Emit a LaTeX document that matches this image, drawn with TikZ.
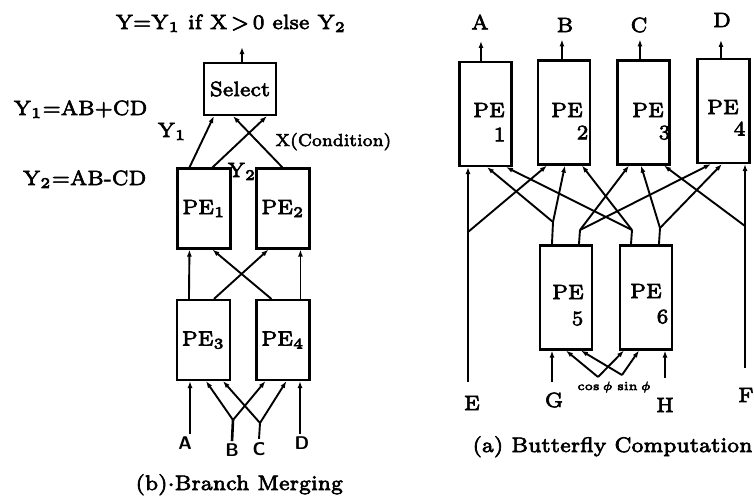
\documentclass[tikz,border=0pt]{standalone}
\usetikzlibrary{arrows.meta,calc}
\newcommand{\heavytext}{\special{pdf:literal direct 2 Tr 0.22 w}}
\newcommand{\plaintext}{\special{pdf:literal direct 0 Tr}}
\begin{document}
\begin{tikzpicture}[x=1pt,y=-1pt,
  box/.style={draw,line width=2.1pt,inner sep=0pt},
  lbox/.style={box,minimum width=53pt,minimum height=80pt},
  rbox/.style={box,minimum width=52pt,minimum height=104pt},
  wire/.style={line width=1.9pt},
  arr/.style={wire,-{Latex[length=7pt,width=5pt]}},
  txt/.style={inner sep=0pt,scale=2.95,font=\fontsize{7}{8.4}\selectfont\heavytext,execute at end node=\plaintext},
  sanstxt/.style={inner sep=0pt,scale=2.3,font=\fontsize{8}{9.6}\sffamily\bfseries},
  smalltxt/.style={inner sep=0pt,scale=2.4,font=\fontsize{5}{6}\selectfont\heavytext,execute at end node=\plaintext},
  captxt/.style={inner sep=0pt,scale=3.0,font=\fontsize{7}{8.4}\selectfont\heavytext,execute at end node=\plaintext}
]
\useasboundingbox (0,0) rectangle (754,498);

% ---------------- (b) Branch Merging ----------------
\node[txt,anchor=base] (title) at (231,29) {Y=Y$_1$ if X\,$>$\,0 else Y$_2$};
\node[box,minimum width=72pt,minimum height=52pt] (sel) at (240,89) {};
\node[txt] (selt) at (sel.center) {Select};
\node[lbox] (L1) at (204,208.5) {};
\node[lbox] (L2) at (283,208.5) {};
\node[lbox] (L3) at (203.5,340) {};
\node[lbox] (L4) at (283,340) {};
\node[txt] (L1t) at (L1.center) {PE$_1$};
\node[txt] (L2t) at (L2.center) {PE$_2$};
\node[txt] (L3t) at (L3.center) {PE$_3$};
\node[txt] (L4t) at (L4.center) {PE$_4$};

\node[txt,anchor=base east] (y1eq) at (148,115) {Y$_1$=AB+CD};
\node[txt,anchor=base east] (y2eq) at (147,185) {Y$_2$=AB-CD};
\node[txt,anchor=base west] (y1) at (157,137) {Y$_1$};
\node[txt,anchor=base west] (y2) at (227,177) {Y$_2$};
\node[txt,anchor=base west,scale=0.84] (xc) at (275,146) {X(Condition)};

\coordinate (selout) at (242,47);
\draw[arr] ([xshift=2pt]sel.north) -- (selout);
\draw[arr] ([xshift=13pt]L1.north west) -- ([xshift=11pt]sel.south west);
\draw[arr] ([xshift=36pt]L1.north west) -- ([xshift=64pt]sel.south west);
\draw[arr] ([xshift=27pt]L2.north west) -- ([xshift=30pt]sel.south west);

\draw[arr] ([xshift=13pt]L3.north west) -- ([xshift=13pt]L1.south west);
\draw[arr] ([xshift=38pt]L3.north west) -- ([xshift=13pt]L2.south west);
\draw[arr] ([xshift=16pt]L4.north west) -- ([xshift=36pt]L1.south west);
\draw[arr] ([xshift=45pt]L4.north west) -- ([xshift=45pt]L2.south west);

\node[sanstxt] (inA) at (185,443) {A};
\node[sanstxt] (inB) at (232,450) {B};
\node[sanstxt] (inC) at (259,449) {C};
\node[sanstxt] (inD) at (302,443) {D};
\coordinate (jb) at (233,420);
\coordinate (jc) at (260,423);
\coordinate (aBot) at (190,434);
\coordinate (dBot) at (300,434);
\draw[arr] (aBot) -- (aBot |- L3.south);
\draw[arr] (dBot) -- (dBot |- L4.south);
\draw[wire,line width=2.6pt] ([yshift=2pt]inB.north) -- (jb);
\draw[wire] ([yshift=3pt]inC.north) -- (jc);
\draw[arr] (jb) -- ([xshift=30pt]L3.south west);
\draw[arr] (jb) -- ([xshift=10pt]L4.south west);
\draw[arr] (jc) -- ([xshift=47pt]L3.south west);
\draw[arr] (jc) -- ([xshift=31pt]L4.south west);

\node[captxt,anchor=base west] (capb) at (135,490) {(b)$\cdot$Branch Merging};

% ---------------- (a) Butterfly Computation ----------------
\node[rbox] (R1) at (485.5,114) {};
\node[rbox] (R2) at (564,112.5) {};
\node[rbox] (R3) at (643.5,112.5) {};
\node[rbox] (R4) at (723.5,111) {};
\node[rbox] (R5) at (566,297.5) {};
\node[rbox] (R6) at (646,297.5) {};

\node[txt] (R1p) at (489,110) {PE};
\node[txt,anchor=north east] (R1n) at (506,127) {1};
\node[txt] (R2p) at (567,110) {PE};
\node[txt,anchor=north east] (R2n) at (589,125) {2};
\node[txt] (R3p) at (648,110) {PE};
\node[txt,anchor=north east] (R3n) at (671,125) {3};
\node[txt] (R4p) at (723,107) {PE};
\node[txt,anchor=north east] (R4n) at (746,121) {4};
\node[txt] (R5p) at (568,292) {PE};
\node[txt,anchor=north east] (R5n) at (584,311) {5};
\node[txt] (R6p) at (646,291) {PE};
\node[txt,anchor=north east] (R6n) at (669,309) {6};

\node[txt] (oA) at (480,22) {A};
\node[txt] (oB) at (565,25) {B};
\node[txt] (oC) at (639,25) {C};
\node[txt] (oD) at (722,20) {D};
\draw[arr] ([xshift=22.5pt]R1.north west) -- ++(0,-20);
\draw[arr] ([xshift=25pt]R2.north west) -- ++(0,-20);
\draw[arr] ([xshift=23.5pt]R3.north west) -- ++(0,-20);
\draw[arr] ([xshift=24.5pt]R4.north west) -- ++(0,-18);

\node[txt] (iE) at (472,403) {E};
\node[txt] (iG) at (554,400) {G};
\node[txt] (iH) at (665,405) {H};
\node[txt] (iF) at (746,395) {F};
\node[smalltxt] (cosl) at (595,387) {$\cos\phi$};
\node[smalltxt] (sinl) at (634,387) {$\sin\phi$};

\coordinate (Eb) at (468,382);
\coordinate (Ej) at (468,232);
\coordinate (Fb) at (745,368);
\coordinate (Fj) at (745,226);
\coordinate (Gb) at (552,382);
\coordinate (Hb) at (665,378);
\coordinate (cj) at (598,377);
\coordinate (sj) at (622,375);

\draw[arr] (Eb) -- (Eb |- R1.south);
\draw[arr] (Ej) -- ([xshift=10pt]R2.south west);
\draw[arr] (Fb) -- (Fb |- R4.south);
\draw[arr] (Fj) -- ([xshift=47.5pt]R3.south west);
\draw[arr] (Gb) -- (Gb |- R5.south);
\draw[arr] (Hb) -- (Hb |- R6.south);
\draw[arr] (cj) -- ([xshift=27pt]R5.south west);
\draw[arr] (cj) -- ([xshift=5pt]R6.south west);
\draw[arr] (sj) -- ([xshift=42pt]R5.south west);
\draw[arr] (sj) -- ([xshift=20pt]R6.south west);

\coordinate (p5l) at (553,222);
\coordinate (p5r) at (580,230);
\coordinate (p6l) at (632,230);
\coordinate (p6r) at (660,228);
\draw[wire] ([xshift=13pt]R5.north west) -- (p5l);
\draw[wire] ([xshift=40pt]R5.north west) -- (p5r);
\draw[wire] ([xshift=12pt]R6.north west) -- (p6l);
\draw[wire] ([xshift=40pt]R6.north west) -- (p6r);
\draw[arr] (p5l) -- ([xshift=28.5pt]R1.south west);
\draw[arr] (p5l) -- ([xshift=28pt]R2.south west);
\draw[arr] (p5r) -- ([xshift=12.5pt]R3.south west);
\draw[arr] (p5r) -- ([xshift=14.5pt]R4.south west);
\draw[arr] (p6l) -- ([xshift=47.5pt]R1.south west);
\draw[arr] (p6l) -- ([xshift=45pt]R2.south west);
\draw[arr] (p6r) -- ([xshift=24.5pt]R3.south west);
\draw[arr] (p6r) -- ([xshift=25.5pt]R4.south west);

\node[captxt,anchor=base west] (capa) at (472,452) {(a) Butterfly Computation};
\end{tikzpicture}
\end{document}
